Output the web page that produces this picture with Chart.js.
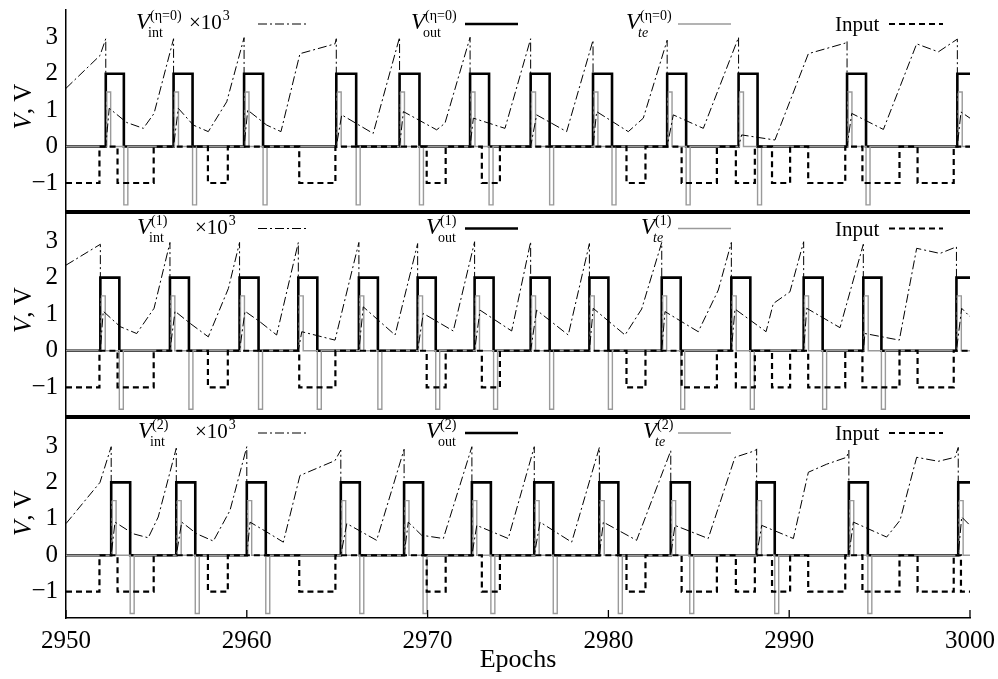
<!DOCTYPE html>
<html lang="en">
<head>
<meta charset="UTF-8">
<title>Neuron voltages, epochs 2950-3000</title>
<script src="https://cdn.jsdelivr.net/npm/chart.js"></script>
<style>
  body { margin: 0; background: #fff; }
  #wrap { position: relative; width: 998px; height: 679px; }
  #wrap canvas { position: absolute; left: 0; top: 0; }
</style>
</head>
<body>
<div id="wrap">
  <canvas id="p0" width="998" height="679"></canvas>
  <canvas id="p1" width="998" height="679"></canvas>
  <canvas id="p2" width="998" height="679"></canvas>
</div>
<script>
// axis values
const xMin = 2950, xMax = 3000;
const epochTicks = [2950, 2960, 2970, 2980, 2990, 3000];
const voltTicks = [-1, 0, 1, 2, 3];
const panelSup = ['(η=0)', '(1)', '(2)'];

// Input: same in all panels, -1 between down and up
const inputDown = [2950, 2952.85, 2957.85, 2962.9, 2969.95, 2973.0, 2981.0, 2984.05, 2987.05, 2989.05, 2991.05, 2994.05, 2997.1];
const inputUp   = [2951.85, 2954.85, 2958.95, 2964.9, 2971.0, 2974.0, 2982.05, 2986.0, 2988.1, 2990.05, 2993.1, 2996.1, 2999.1];
const inputDown2 = inputDown.concat([2999.5]);
const inputUp2 = inputUp.concat([3001]);

// Vout pulses (0 -> 2), rise / fall epochs
const outRise0 = [2952.2, 2955.95, 2959.85, 2964.95, 2968.45, 2972.35, 2975.7, 2979.15, 2983.25, 2987.2, 2993.2, 2999.3];
const outFall0 = [2953.2, 2957.0, 2960.9, 2966.05, 2969.55, 2973.4, 2976.75, 2980.2, 2984.3, 2988.25, 2994.25, 3001];
const outRise1 = [2951.9, 2955.75, 2959.6, 2962.85, 2966.2, 2969.45, 2972.6, 2975.7, 2978.95, 2982.95, 2986.8, 2990.8, 2994.1, 2999.25];
const outFall1 = [2952.95, 2956.8, 2960.65, 2963.9, 2967.25, 2970.45, 2973.65, 2976.75, 2980.0, 2984.0, 2987.85, 2991.85, 2995.1, 3001];
const outRise2 = [2952.5, 2956.1, 2960.0, 2965.2, 2968.7, 2972.45, 2975.9, 2979.5, 2983.45, 2988.2, 2993.3, 2999.35];
const outFall2 = [2953.55, 2957.15, 2961.05, 2966.25, 2969.75, 2973.5, 2976.95, 2980.55, 2984.5, 2989.2, 2994.35, 3001];

// Vte spikes at the Vout edges
const teHigh = 1.5, teLow = -1.6, teWidth = 0.22, teGap = 0.05;

// Vint x 10^3
const int0X = [2950, 2951.88, 2952.2, 2952.2, 2952.39, 2953.36, 2954.28, 2954.87, 2955.95, 2955.95, 2956.21, 2957.04, 2957.87, 2958.89, 2959.85, 2959.85, 2960.05, 2961.1, 2961.89, 2962.94, 2964.88, 2964.95, 2964.95, 2965.25, 2966.99, 2968.45, 2968.45, 2968.66, 2970.5, 2970.96, 2972.35, 2972.35, 2972.53, 2974.28, 2975.7, 2975.7, 2976.03, 2977.69, 2979.15, 2979.15, 2979.35, 2981.1, 2981.93, 2983.25, 2983.25, 2983.59, 2985.25, 2987.2, 2987.2, 2987.37, 2989.21, 2991.06, 2993.1, 2993.2, 2993.2, 2993.46, 2995.21, 2997.05, 2998.25, 2999.3, 2999.3, 2999.5, 3000];
const int0Y = [1.60, 2.50, 2.96, 0, 1.05, 0.66, 0.50, 0.91, 2.96, 0, 1.05, 0.59, 0.41, 1.23, 2.99, 0, 1.0, 0.59, 0.41, 2.55, 2.82, 2.96, 0, 0.87, 0.36, 3.0, 0, 0.96, 0.46, 0.64, 3.0, 0, 0.78, 0.50, 2.96, 0, 0.87, 0.41, 2.92, 0, 0.96, 0.41, 0.78, 2.92, 0, 0.87, 0.50, 3.0, 0, 0.32, 0.18, 2.55, 2.84, 2.9, 0, 0.91, 0.47, 2.82, 2.60, 2.95, 0, 0.95, 0.78];
const int1X = [2950, 2951.9, 2951.9, 2952.06, 2952.99, 2953.91, 2954.87, 2955.75, 2955.75, 2956.03, 2956.86, 2957.87, 2958.98, 2959.6, 2959.6, 2959.9, 2960.73, 2961.65, 2962.85, 2962.85, 2963.04, 2964.88, 2966.2, 2966.2, 2966.44, 2968.2, 2969.45, 2969.45, 2969.76, 2971.42, 2972.6, 2972.6, 2972.9, 2974.65, 2975.7, 2975.7, 2976.03, 2977.78, 2978.95, 2978.95, 2979.16, 2980.92, 2981.84, 2982.95, 2982.95, 2983.13, 2984.97, 2986.08, 2986.8, 2986.8, 2987.0, 2988.72, 2989.12, 2990.04, 2990.8, 2990.8, 2990.97, 2992.81, 2994.1, 2994.1, 2994.19, 2996.09, 2997.05, 2998.34, 2999.25, 2999.25, 2999.54, 3000];
const int1Y = [2.34, 2.91, 0, 1.08, 0.66, 0.47, 1.16, 2.96, 0, 1.08, 0.75, 0.38, 1.70, 2.96, 0, 1.08, 0.79, 0.43, 2.96, 0, 0.52, 0.29, 2.96, 0, 1.20, 0.43, 2.93, 0, 1.02, 0.54, 2.98, 0, 1.11, 0.54, 2.98, 0, 1.11, 0.43, 2.93, 0, 1.16, 0.43, 1.14, 2.96, 0, 1.07, 0.52, 1.66, 2.96, 0, 1.14, 0.52, 1.29, 1.61, 2.98, 0, 1.16, 0.63, 2.91, 0, 0.47, 0.29, 2.80, 2.66, 2.84, 0, 1.16, 0.93];
const int2X = [2950, 2951.88, 2952.5, 2952.5, 2952.71, 2953.72, 2954.55, 2955.1, 2956.1, 2956.1, 2956.4, 2957.23, 2958.15, 2959.07, 2960.0, 2960.0, 2960.18, 2961.1, 2962.02, 2962.94, 2964.88, 2965.2, 2965.2, 2965.53, 2967.18, 2968.7, 2968.7, 2968.93, 2969.67, 2970.87, 2972.45, 2972.45, 2972.72, 2974.46, 2975.9, 2975.9, 2976.22, 2977.97, 2979.5, 2979.5, 2979.72, 2981.56, 2983.45, 2983.45, 2983.68, 2985.52, 2987.0, 2988.11, 2988.2, 2988.2, 2988.48, 2990.23, 2991.06, 2992.07, 2993.18, 2993.3, 2993.3, 2993.55, 2995.39, 2996.13, 2997.05, 2998.25, 2999.17, 2999.35, 2999.35, 2999.54, 3000];
const int2Y = [0.87, 2.0, 2.98, 0, 0.91, 0.59, 0.48, 1.05, 2.94, 0, 0.91, 0.59, 0.39, 1.23, 2.98, 0, 0.91, 0.64, 0.36, 2.19, 2.60, 2.89, 0, 0.87, 0.41, 2.91, 0, 0.91, 0.55, 0.46, 2.98, 0, 0.82, 0.46, 2.98, 0, 0.91, 0.36, 2.96, 0, 0.91, 0.41, 2.87, 0, 0.82, 0.46, 2.69, 2.87, 2.92, 0, 0.82, 0.46, 2.28, 2.50, 2.69, 2.88, 0, 0.91, 0.50, 0.96, 2.69, 2.58, 2.69, 2.96, 0, 1.05, 0.82];

function steps(starts, ends, level) {
  const pts = [];
  if (starts[0] > xMin) pts.push({x: xMin, y: 0});
  starts.forEach((s, i) => {
    if (s > xMin) pts.push({x: s, y: 0});
    pts.push({x: s, y: level}, {x: ends[i], y: level}, {x: ends[i], y: 0});
  });
  if (ends[ends.length - 1] < xMax) pts.push({x: xMax, y: 0});
  return pts;
}

function tePulses(rises, falls) {
  const pts = [{x: xMin, y: 0}];
  rises.forEach((r, i) => {
    const a = r + teGap, f = falls[i];
    pts.push({x: a, y: 0}, {x: a, y: teHigh}, {x: a + teWidth, y: teHigh}, {x: a + teWidth, y: 0});
    if (f < xMax) pts.push({x: f, y: 0}, {x: f, y: teLow}, {x: f + teWidth, y: teLow}, {x: f + teWidth, y: 0});
  });
  pts.push({x: xMax, y: 0});
  return pts;
}

const zip = (xs, ys) => xs.map((x, i) => ({x: x, y: ys[i]}));

const serif = '"Liberation Serif", "Times New Roman", serif';
Chart.defaults.font.family = serif;
Chart.defaults.color = '#000';

// legend positions in each panel
const legendPos = [
  {lineY: 24, intX: 136, timesX: 189, outX: 411, teX: 626},
  {lineY: 228.5, intX: 137, timesX: 195, outX: 426, teX: 641},
  {lineY: 433, intX: 138, timesX: 195, outX: 426, teX: 643}
];

function drawV(ctx, x, base, sup, sub, subItalic) {
  ctx.font = 'italic 23px ' + serif;
  ctx.fillText('V', x, base);
  ctx.font = '14px ' + serif;
  ctx.fillText(sup, x + 14, base - 9);
  ctx.font = (subItalic ? 'italic ' : '') + '14px ' + serif;
  ctx.fillText(sub, x + 12, base + 8);
}

function sample(ctx, x1, x2, y, color, width, dash) {
  ctx.beginPath();
  ctx.setLineDash(dash);
  ctx.strokeStyle = color;
  ctx.lineWidth = width;
  ctx.moveTo(x1, y);
  ctx.lineTo(x2, y);
  ctx.stroke();
  ctx.setLineDash([]);
}

const panelDecor = {
  id: 'panelDecor',
  afterDatasetsDraw(chart, args, opts) {
    const ctx = chart.ctx, a = chart.chartArea, i = opts.index;
    ctx.save();
    // thick separator under upper panels, inward ticks on the bottom one
    if (i < 2) {
      ctx.beginPath();
      ctx.strokeStyle = '#000';
      ctx.lineWidth = 4;
      ctx.moveTo(a.left, a.bottom);
      ctx.lineTo(a.right, a.bottom);
      ctx.stroke();
    } else {
      const xs = chart.scales.x;
      ctx.beginPath();
      ctx.strokeStyle = '#000';
      ctx.lineWidth = 1.3;
      epochTicks.forEach(v => {
        const px = xs.getPixelForValue(v);
        ctx.moveTo(px, a.bottom);
        ctx.lineTo(px, a.bottom - 8);
      });
      ctx.stroke();
    }

    // legend
    const L = legendPos[i];
    const base = L.lineY + 5;
    ctx.fillStyle = '#000';
    ctx.textBaseline = 'alphabetic';
    ctx.textAlign = 'left';
    drawV(ctx, L.intX, base, panelSup[i], 'int', false);
    ctx.font = '21px ' + serif;
    ctx.fillText('×10', L.timesX, base);
    const w = ctx.measureText('×10').width;
    ctx.font = '14px ' + serif;
    ctx.fillText('3', L.timesX + w + 1, base - 9);
    sample(ctx, 258, 308, L.lineY, '#000', 1, [9, 3, 2, 3]);
    drawV(ctx, L.outX, base, panelSup[i], 'out', false);
    sample(ctx, 465, 518, L.lineY, '#000', 2.6, []);
    drawV(ctx, L.teX, base, panelSup[i], 'te', true);
    sample(ctx, 678, 731, L.lineY, '#9a9a9a', 1.4, []);
    ctx.font = '21px ' + serif;
    ctx.fillText('Input', 835, L.lineY + 7);
    sample(ctx, 889, 943, L.lineY, '#000', 2.2, [6, 4]);

    // y axis title "V, V"
    const cy = (a.top + a.bottom) / 2 - 4.5;
    ctx.translate(24, cy);
    ctx.rotate(-Math.PI / 2);
    ctx.font = 'italic 25px ' + serif;
    const w1 = ctx.measureText('V').width;
    ctx.font = '25px ' + serif;
    const w2 = ctx.measureText(', V').width;
    const start = -(w1 + w2) / 2;
    ctx.font = 'italic 25px ' + serif;
    ctx.fillText('V', start, 7);
    ctx.font = '25px ' + serif;
    ctx.fillText(', V', start + w1, 7);
    ctx.restore();
  }
};

const yRanges = [[-1.796, 3.749], [-1.812, 3.793], [-1.722, 3.796]];
const pads = [{top: 10, bottom: 467}, {top: 212, bottom: 262}, {top: 417, bottom: 0}];

function makePanel(i, intX, intY, rises, falls, inDown, inUp) {
  const bottomPanel = i === 2;
  return new Chart(document.getElementById('p' + i), {
    type: 'line',
    data: {
      datasets: [
        {label: 'Input', data: steps(inDown, inUp, -1), borderColor: '#000', borderWidth: 2.2, borderDash: [6, 4]},
        {label: 'Vint x 10^3', data: zip(intX, intY), borderColor: '#000', borderWidth: 1, borderDash: [9, 3, 2, 3]},
        {label: 'Vte', data: tePulses(rises, falls), borderColor: '#9a9a9a', borderWidth: 1.4},
        {label: 'Vout', data: steps(rises, falls, 2), borderColor: '#000', borderWidth: 2.6}
      ]
    },
    options: {
      responsive: false,
      animation: false,
      devicePixelRatio: 1,
      events: [],
      elements: {point: {radius: 0}, line: {tension: 0, fill: false, borderJoinStyle: 'miter'}},
      layout: {padding: {left: 0, right: 28, top: pads[i].top, bottom: pads[i].bottom}},
      plugins: {legend: {display: false}, tooltip: {enabled: false}, panelDecor: {index: i}},
      scales: {
        x: {
          type: 'linear',
          min: xMin,
          max: xMax,
          display: bottomPanel,
          grid: {display: false, drawTicks: false},
          border: {display: true, color: '#000', width: 1.5},
          afterBuildTicks: s => { s.ticks = epochTicks.map(v => ({value: v})); },
          ticks: {padding: 8, font: {size: 25}, color: '#000', maxRotation: 0, callback: v => String(v)},
          title: {display: true, text: 'Epochs', font: {size: 26}, color: '#000', padding: {top: 0, bottom: 3}},
          afterFit: s => { s.height = bottomPanel ? 61 : 0; s.paddingLeft = 0; s.paddingRight = 0; }
        },
        y: {
          type: 'linear',
          min: yRanges[i][0],
          max: yRanges[i][1],
          grid: {display: false, drawTicks: false},
          border: {display: true, color: '#000', width: 1.5},
          afterBuildTicks: s => { s.ticks = voltTicks.map(v => ({value: v})); },
          ticks: {padding: 8, font: {size: 25}, color: '#000', callback: v => v < 0 ? '\u2212' + Math.abs(v) : String(v)},
          afterFit: s => { s.width = 66; s.paddingTop = 0; s.paddingBottom = 0; }
        }
      }
    },
    plugins: [panelDecor]
  });
}

makePanel(0, int0X, int0Y, outRise0, outFall0, inputDown, inputUp);
makePanel(1, int1X, int1Y, outRise1, outFall1, inputDown, inputUp);
makePanel(2, int2X, int2Y, outRise2, outFall2, inputDown2, inputUp2);
</script>
</body>
</html>
